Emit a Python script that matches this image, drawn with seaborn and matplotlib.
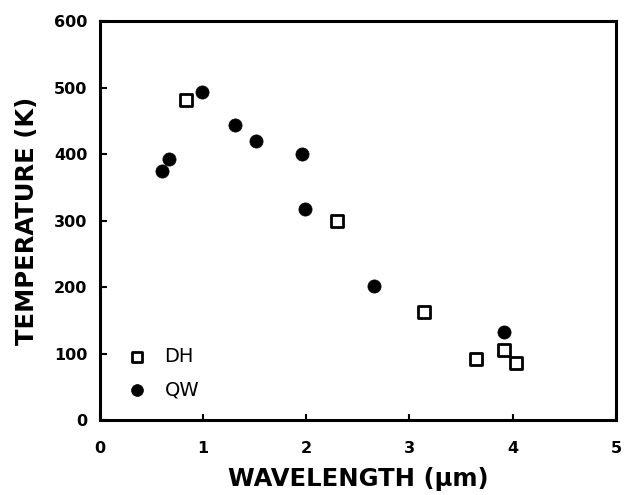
import matplotlib
matplotlib.use("Agg")
import matplotlib.pyplot as plt
import seaborn as sns
import pandas as pd

# values
dh_wavelength = [0.83, 2.30, 3.14, 3.64, 3.92, 4.03]
dh_temperature = [482, 300, 162, 92, 105, 86]

qw_wavelength = [0.60, 0.67, 0.985, 1.31, 1.51, 1.96, 1.99, 2.655, 3.92]
qw_temperature = [374, 392, 493, 443, 420, 400, 317, 201, 132]

x_ticks = [0, 1, 2, 3, 4, 5]
y_ticks = [0, 100, 200, 300, 400, 500, 600]

dh = pd.DataFrame({"wavelength": dh_wavelength, "temperature": dh_temperature})
qw = pd.DataFrame({"wavelength": qw_wavelength, "temperature": qw_temperature})

sns.set_style("white")
plt.rcParams["font.family"] = ["DejaVu Sans"]
plt.rcParams["text.color"] = "black"
plt.rcParams["axes.labelcolor"] = "black"
plt.rcParams["xtick.color"] = "black"
plt.rcParams["ytick.color"] = "black"

fig = plt.figure(figsize=(6.24, 4.95), dpi=100)
ax = fig.add_axes([0.160, 0.1515, 0.827, 0.806])

sns.scatterplot(data=dh, x="wavelength", y="temperature", ax=ax,
                marker="s", s=64, facecolor="white", edgecolor="black",
                linewidth=2.0, label="DH", zorder=3)
sns.scatterplot(data=qw, x="wavelength", y="temperature", ax=ax,
                marker="o", s=90, color="black", edgecolor="black",
                linewidth=0.5, label="QW", zorder=3)

ax.set_xlim(0, 5)
ax.set_ylim(0, 600)
ax.set_xticks(x_ticks)
ax.set_yticks(y_ticks)
ax.set_xticklabels([str(t) for t in x_ticks], fontsize=11.5, fontweight="bold")
ax.set_yticklabels([str(t) for t in y_ticks], fontsize=11.5, fontweight="bold")
ax.tick_params(axis="x", direction="in", length=4, width=1.5, pad=15, bottom=True)
ax.tick_params(axis="y", direction="in", length=5, width=1.5, pad=9, left=True)

for side in ax.spines.values():
    side.set_linewidth(2.2)
    side.set_color("black")

ax.set_xlabel("WAVELENGTH (\u03bcm)", fontsize=17.5, fontweight="bold", labelpad=8)
ax.set_ylabel("TEMPERATURE (K)", fontsize=17.5, fontweight="bold", labelpad=11)

ax.legend(loc="lower left", bbox_to_anchor=(0.02, 0.008), frameon=False,
          fontsize=14, handlelength=1.0, handletextpad=0.9,
          labelspacing=0.75, markerscale=0.9)

fig.savefig("out.png", dpi=100)
